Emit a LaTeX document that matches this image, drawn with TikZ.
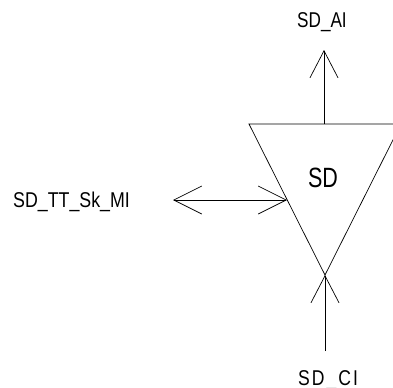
\documentclass[tikz,border=0pt]{standalone}
\usepackage{fontspec}
\setmainfont{Liberation Sans}
\usetikzlibrary{arrows.meta}
\usetikzlibrary{positioning}

\tikzset{
  lbl/.style={font=\fontsize{21.5}{21.5}\selectfont, anchor=base, inner sep=0pt},
  sdlbl/.style={font=\fontsize{28}{28}\selectfont, anchor=base, inner sep=0pt},
  port/.style={line width=0.7bp, -{Straight Barb[length=27bp,width=28bp,line width=0.7bp]}},
  bport/.style={line width=0.7bp, {Straight Barb[length=28bp,width=28bp,line width=0.7bp]}-{Straight Barb[length=28bp,width=28bp,line width=0.7bp]}}
}

\begin{document}
\begin{tikzpicture}[x=1bp,y=-1bp]
\clip (0,0) rectangle (393,388);

% triangle
\coordinate (sdtopl) at (249,124);
\coordinate (sdtopr) at (401,124);
\coordinate (sdapex) at (325,275);
\coordinate (sdtop) at (324,124);
\coordinate (sdleft) at (287,200);
\draw[line width=0.7bp] (sdtopl) -- (sdtopr) -- (sdapex) -- cycle;
\node[sdlbl] (sd) at (323,187) {\scalebox{0.77}[1]{SD}};

% labels
\node[lbl] (ai) at (322,27.5) {\scalebox{0.8}[1]{SD\_AI}};
\node[lbl] (mi) at (71.5,207) {\scalebox{0.83}[1]{SD\_TT\_Sk\_MI}};
\node[lbl] (ci) at (328,385) {\scalebox{0.82}[1]{S\hspace{2.5pt}D\hspace{2.5pt}\_\hspace{2.5pt}C\hspace{2.5pt}I}};

% ports
\coordinate (aiend) at (324,50);
\coordinate (miend) at (173,200);
\coordinate (ciend) at (325,351);
\draw[port] (sdtop) -- (aiend);
\draw[bport] (miend) -- (sdleft);
\draw[port] (ciend) -- (sdapex);

\end{tikzpicture}
\end{document}
